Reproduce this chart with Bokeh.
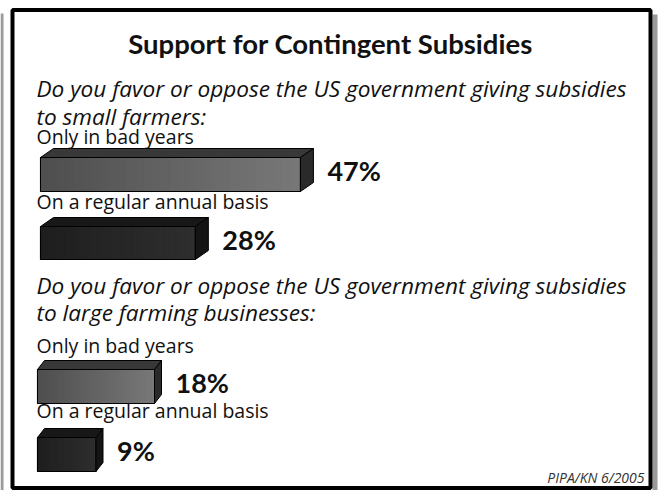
from bokeh.plotting import figure
from bokeh.models import Range1d
from bokeh.core.properties import value
from bokeh.embed import file_html
from bokeh.resources import INLINE

title = "Support for Contingent Subsidies"
questions = [
    ["Do you favor or oppose the US government giving subsidies", "to small farmers:"],
    ["Do you favor or oppose the US government giving subsidies", "to large farming businesses:"],
]
categories = ["Only in bad years", "On a regular annual basis"]
small_farmers = [47, 28]
large_businesses = [18, 9]
source_note = "PIPA/KN 6/2005"

BODY = "Open Sans"
HEAD = "Lato"
W, H = 658, 490
p = figure(width=W, height=H, x_range=Range1d(0, W), y_range=Range1d(H, 0),
           output_backend="svg", toolbar_location=None, min_border=0)
p.axis.visible = False
p.grid.visible = False
p.outline_line_color = None
p.background_fill_color = "white"
p.border_fill_color = "white"

# frame and shadows
p.quad(left=[0], right=[3], top=[13], bottom=[H], fill_color="#9a9a9a", line_color=None)
p.quad(left=[652], right=[657], top=[14], bottom=[H], fill_color="#9a9a9a", line_color=None)
p.quad(left=[12], right=[650], top=[9.5], bottom=[487.5], fill_color="white",
       line_color="black", line_width=4)

def txt(x, y, s, size, font, style="normal", align="left", color="#111111"):
    p.text(x=[x], y=[y], text=[s], text_font=value(font), text_font_size=size,
           text_font_style=style, text_align=align, text_baseline="middle",
           text_color=color)

txt(330, 43, title, "27.5px", HEAD, "bold", "center")

def mix(c0, c1, t):
    return "#%02x%02x%02x" % tuple(int(round(a + (b - a) * t)) for a, b in zip(c0, c1))

def bar3d(x0, top, bot, length, d, dy, front, topc, side):
    x1 = x0 + length
    n = 30
    xs = [x0 + length * i / n for i in range(n + 1)]
    cols = [mix(front[0], front[1], (i + 0.5) / n) for i in range(n)]
    p.quad(left=xs[:-1], right=xs[1:], top=[top] * n, bottom=[bot] * n,
           fill_color=cols, line_color=cols, line_width=1.2)
    p.quad(left=[x0], right=[x1], top=[top], bottom=[bot], fill_color=None,
           line_color="black", line_width=1)
    p.patch([x0, x0 + d, x1 + d, x1], [top, top - dy, top - dy, top],
            fill_color=topc, line_color="black", line_width=1)
    p.patch([x1, x1 + d, x1 + d, x1], [top, top - dy, bot - dy, bot],
            fill_color=side, line_color="black", line_width=1)
    return x1 + d

styles = [
    (((0x4e, 0x4e, 0x4e), (0x78, 0x78, 0x78)), "#383838", "#2a2a2a"),
    (((0x1e, 0x1e, 0x1e), (0x2e, 0x2e, 0x2e)), "#181818", "#141414"),
]

groups = [
    dict(q=questions[0], vals=small_farmers, qy=[88, 116], ly=[136, 201],
         bars=[(157, 191), (226, 259)], k=5.53, d=13, dy=9, x0=40),
    dict(q=questions[1], vals=large_businesses, qy=[285, 312], ly=[345, 410],
         bars=[(369, 403), (437, 471)], k=6.5, d=7, dy=9, x0=37),
]

for g in groups:
    for line, y in zip(g["q"], g["qy"]):
        txt(36, y, line, "22.6px", BODY, "italic")
    for i, (cat, v) in enumerate(zip(categories, g["vals"])):
        txt(36, g["ly"][i], cat, "19.5px", BODY)
        top, bot = g["bars"][i]
        end = bar3d(g["x0"], top, bot, v * g["k"], g["d"], g["dy"], *styles[i])
        txt(end + 14, (top + bot) / 2 - 4, f"{v}%", "27px", HEAD, "bold")

txt(644, 477, source_note, "14px", BODY, "italic", "right", "#333333")

open("out.html", "w").write(file_html(p, INLINE))
